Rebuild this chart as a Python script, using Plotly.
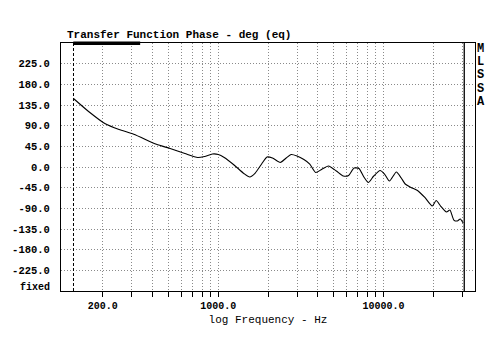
import plotly.graph_objects as go
import numpy as np

# ---- data ----
freq_hz = [132.8, 163.9, 206.8, 250.6, 307.6, 421.7, 510.9, 627.6, 749.9, 825.4,
           920.9, 1000, 1085.7, 1245, 1428, 1550, 1672, 1828, 1971, 2126,
           2371, 2575, 2757, 2994, 3295, 3577, 3884, 4217, 4642, 5179,
           5702, 6147, 6628, 7099, 7603, 8085, 8721, 9532, 10140, 10857,
           11953, 12797, 13522, 14678, 16049, 17783, 19704, 20823, 22140, 24044,
           25222, 26645, 27950, 29130, 30353]
phase_deg = [149.2, 120.9, 94.1, 81.7, 71.5, 49.5, 40.3, 29.4, 20.7, 22.9,
             28.3, 27.2, 20.7, 4.4, -14.2, -21.8, -13.1, 6.5, 21.8, 19.6,
             9.8, 19.6, 27.2, 24.0, 16.3, 6.5, -12.0, -5.4, 2.2, -8.7,
             -19.6, -18.5, -2.2, -3.3, -21.8, -33.8, -19.6, -7.6, -15.3, -30.5,
             -10.9, -24.0, -37.0, -44.7, -51.2, -66.4, -85.0, -73.0, -85.0, -98.0,
             -93.7, -115.5, -117.6, -113.3, -122.0]

x_grid = [200, 300, 400, 500, 600, 700, 800, 900, 1000,
          2000, 3000, 4000, 5000, 6000, 7000, 8000, 9000, 10000, 20000, 30000]
x_labels = {200: "200.0", 1000: "1000.0", 10000: "10000.0"}
y_ticks = [225, 180, 135, 90, 45, 0, -45, -90, -135, -180, -225]
y_labels = ["225.0", "180.0", "135.0", "90.0", "45.0", "0.0",
            "-45.0", "-90.0", "-135.0", "-180.0", "-225.0"]
start_hz = 132.8
end_hz = 30800
x_range_log = [2.0476, 4.5536]
y_range = [-270, 270]

title_text = "Transfer Function Phase - deg (eq)"
x_title = "log Frequency - Hz"
side_letters = ["M", "L", "S", "S", "A"]

MONO = "Liberation Mono"

fig = go.Figure()

# start / end marker lines
fig.add_trace(go.Scatter(x=[start_hz, start_hz], y=y_range, mode="lines",
                         line=dict(color="black", width=1, dash="3px,2px"),
                         hoverinfo="skip", showlegend=False))
fig.add_trace(go.Scatter(x=[end_hz, end_hz], y=y_range, mode="lines",
                         line=dict(color="black", width=1.3),
                         hoverinfo="skip", showlegend=False))

# phase curve
fig.add_trace(go.Scatter(x=freq_hz, y=phase_deg, mode="lines",
                         line=dict(color="black", width=1.1, shape="spline", smoothing=0.6),
                         showlegend=False))

fig.update_xaxes(type="log", range=x_range_log,
                 tickvals=x_grid, ticktext=[x_labels.get(v, "") for v in x_grid],
                 ticks="outside", ticklen=5, tickcolor="black",
                 showgrid=True, gridcolor="#8a8a8a", griddash="1px,2px", gridwidth=1,
                 showline=True, linecolor="black", linewidth=1, mirror=True,
                 tickfont=dict(family=MONO, size=10, color="black", weight="bold"),
                 title=dict(text=x_title, font=dict(family=MONO, size=11, color="black"),
                            standoff=4),
                 zeroline=False)
fig.update_yaxes(range=y_range, tickvals=y_ticks, ticktext=y_labels,
                 ticks="", ticklabelstandoff=8,
                 showgrid=True, gridcolor="#8a8a8a", griddash="1px,2px", gridwidth=1,
                 showline=True, linecolor="black", linewidth=1, mirror=True,
                 tickfont=dict(family=MONO, size=10.5, color="black", weight="bold"),
                 zeroline=False)

W, H = 500, 350
L, R, T, B = 54, 25, 43, 59
pw, ph = W - L - R, H - T - B

def px(xp):
    return (xp - L) / pw

def py(yp):
    return (H - B - yp) / ph

annotations = [
    dict(text=title_text, x=px(58), y=py(35), xref="paper", yref="paper",
         xanchor="left", yanchor="middle", showarrow=False,
         font=dict(family=MONO, size=11, color="black", weight="bold")),
    dict(text="fixed", x=px(45), y=py(287), xref="paper", yref="paper",
         xanchor="right", yanchor="middle", showarrow=False,
         font=dict(family=MONO, size=10, color="black", weight="bold")),
]
for i, ch in enumerate(side_letters):
    annotations.append(dict(text=ch, x=px(481), y=py(49 + 13.2 * i), xref="paper", yref="paper",
                            xanchor="center", yanchor="middle", showarrow=False,
                            font=dict(family=MONO, size=12, color="black", weight="bold")))

shapes = [dict(type="rect", xref="paper", yref="paper",
               x0=px(66.5), x1=px(134.5), y0=py(45), y1=py(41.5),
               fillcolor="black", line=dict(width=0))]

fig.update_layout(width=W, height=H, margin=dict(l=L, r=R, t=T, b=B),
                  paper_bgcolor="white", plot_bgcolor="white",
                  annotations=annotations, shapes=shapes)

fig.write_html("out.html")
